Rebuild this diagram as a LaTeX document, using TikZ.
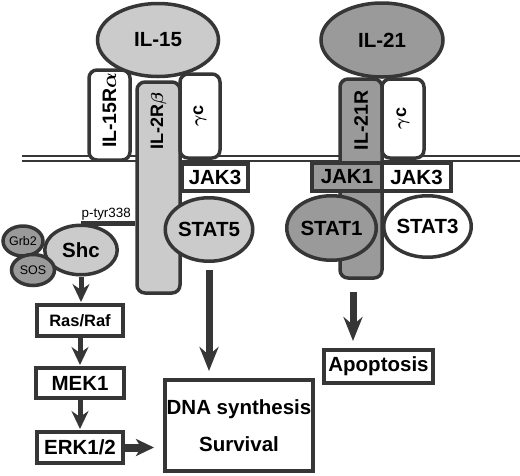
\documentclass[tikz,border=0pt]{standalone}
\usepackage{fontspec}
\setmainfont{Liberation Sans}
\usetikzlibrary{positioning,arrows.meta,shapes.geometric}
\definecolor{ink}{HTML}{363636}
\definecolor{lightprot}{HTML}{CBCBCB}
\definecolor{darkprot}{HTML}{9A9A9A}
\newcommand\biglab{\fontsize{20.5}{24}\selectfont\bfseries\boldmath}

\begin{document}
\begin{tikzpicture}[x=1pt,y=-1pt,
  prot/.style={ellipse, draw=ink, line width=3.5pt, inner sep=0pt, font=\biglab},
  chain/.style={rectangle, rounded corners=8pt, draw=ink, line width=3.5pt, inner sep=0pt},
  kinase/.style={rectangle, draw=ink, line width=3.5pt, inner sep=0pt, font=\biglab},
  outbox/.style={rectangle, draw=ink, line width=4pt, inner sep=0pt, fill=white, font=\biglab},
  vlabel/.style={rotate=90, inner sep=0pt, font=\biglab},
  bigarrow/.style={ink, line width=7pt, -{Stealth[length=24pt,width=19pt,inset=8pt]}},
  smallarrow/.style={ink, line width=5pt, -{Stealth[length=18pt,width=17pt,inset=6pt]}},
  sidearrow/.style={ink, line width=8pt, -{Stealth[length=18pt,width=17pt,inset=5pt]}}]
\useasboundingbox (0,0) rectangle (520,475);
\coordinate (memL) at (22,155.5);
\coordinate (memR) at (520,155.5);
\draw[ink, line width=2pt] (memL) -- (memR);
\draw[ink, line width=2pt] ([yshift=-5.5pt]memL) -- ([yshift=-5.5pt]memR);
\node[chain, fill=white, minimum width=41pt, minimum height=90pt] (rec15a) at (109.5,115) {};
\node[chain, fill=lightprot, minimum width=43pt, minimum height=211pt] (rec2b) at (158.5,187.5) {};
\node[chain, fill=white, minimum width=40pt, minimum height=84pt] (gc1) at (200,116) {};
\node[vlabel, font=\fontsize{19.5}{23}\selectfont\bfseries\boldmath] (lab15a) at ([yshift=-42pt]rec15a.north) {IL-15R$\alpha$};
\node[vlabel, font=\fontsize{18}{20}\selectfont\bfseries\boldmath] (lab2b) at ([yshift=-41pt]rec2b.north) {IL-2R$\beta$};
\node[vlabel, font=\fontsize{18}{20}\selectfont\bfseries\boldmath] (labgc1) at (gc1) {$\gamma$c};
\node[prot, fill=lightprot, minimum width=121pt, minimum height=73pt] (il15) at (158,40) {IL-15};
\node[kinase, fill=white, minimum width=66pt, minimum height=27pt] (jak3a) at (215,177.5) {JAK3};
\node[anchor=base east, inner sep=0pt, font=\fontsize{13.4}{15}\selectfont] (ptyr) at (131,217) {p-tyr338};
\node[prot, fill=darkprot, minimum width=40pt, minimum height=30pt, font=\fontsize{12.5}{14}\selectfont] (grb2) at (23,241) {Grb2};
\node[prot, fill=lightprot, minimum width=72.5pt, minimum height=49.5pt] (shc) at (81,250) {Shc};
\draw[ink, line width=5pt] (shc.north) -- (shc.north -| rec2b.west);
\node[prot, fill=darkprot, minimum width=43pt, minimum height=31pt, font=\fontsize{12.5}{14}\selectfont] (sos) at (33,270) {SOS};
\node[prot, fill=lightprot, minimum width=82.5pt, minimum height=63.5pt] (stat5) at (209,229.5) {STAT5};
\node[chain, fill=darkprot, minimum width=42pt, minimum height=199pt] (rec21) at (361,178.5) {};
\node[chain, fill=white, minimum width=42pt, minimum height=79pt] (gc2) at (403,118.5) {};
\node[vlabel, font=\fontsize{19.5}{23}\selectfont\bfseries\boldmath] (lab21) at ([yshift=-43pt]rec21.north) {IL-21R};
\node[vlabel, font=\fontsize{18}{20}\selectfont\bfseries\boldmath] (labgc2) at (gc2) {$\gamma$c};
\node[prot, fill=darkprot, minimum width=122pt, minimum height=74pt] (il21) at (382,40) {IL-21};
\node[kinase, fill=darkprot, minimum width=70pt, minimum height=28pt] (jak1) at (347,177) {JAK1};
\node[kinase, fill=white, minimum width=69pt, minimum height=28pt] (jak3b) at (416.5,177) {JAK3};
\node[prot, fill=darkprot, minimum width=89.5pt, minimum height=64.5pt] (stat1) at (331.5,228) {STAT1};
\node[prot, fill=white, minimum width=87.5pt, minimum height=61.5pt] (stat3) at (427.5,226.5) {STAT3};
\node[outbox, minimum width=86pt, minimum height=31pt, font=\fontsize{16.5}{19}\selectfont\bfseries] (rasraf) at (80,320.5) {Ras/Raf};
\node[outbox, minimum width=88pt, minimum height=30pt] (mek1) at (80,383) {MEK1};
\node[outbox, minimum width=86pt, minimum height=31pt] (erk) at (80,447.5) {ERK1/2};
\node[outbox, minimum width=148pt, minimum height=91pt, align=center] (dna) at (239,425.5) {DNA synthesis\\[13pt]Survival};
\node[outbox, minimum width=109pt, minimum height=33pt] (apop) at (378.5,366.5) {Apoptosis};
\draw[smallarrow, shorten >=1pt] (shc.south) -- (shc.south |- rasraf.north);
\draw[smallarrow, shorten >=1pt] (rasraf.south) -- (rasraf.south |- mek1.north);
\draw[smallarrow, shorten >=1pt] (mek1.south) -- (mek1.south |- erk.north);
\draw[sidearrow, shorten >=9pt] (erk.east) -- (erk.east -| dna.west);
\draw[bigarrow, shorten <=7pt, shorten >=7pt] (stat5.south) -- (stat5.south |- dna.north);
\draw[bigarrow, shorten <=12pt, shorten >=7pt] ([xshift=-8pt]rec21.south) -- ([xshift=-8pt]rec21.south |- apop.north);
\end{tikzpicture}
\end{document}
